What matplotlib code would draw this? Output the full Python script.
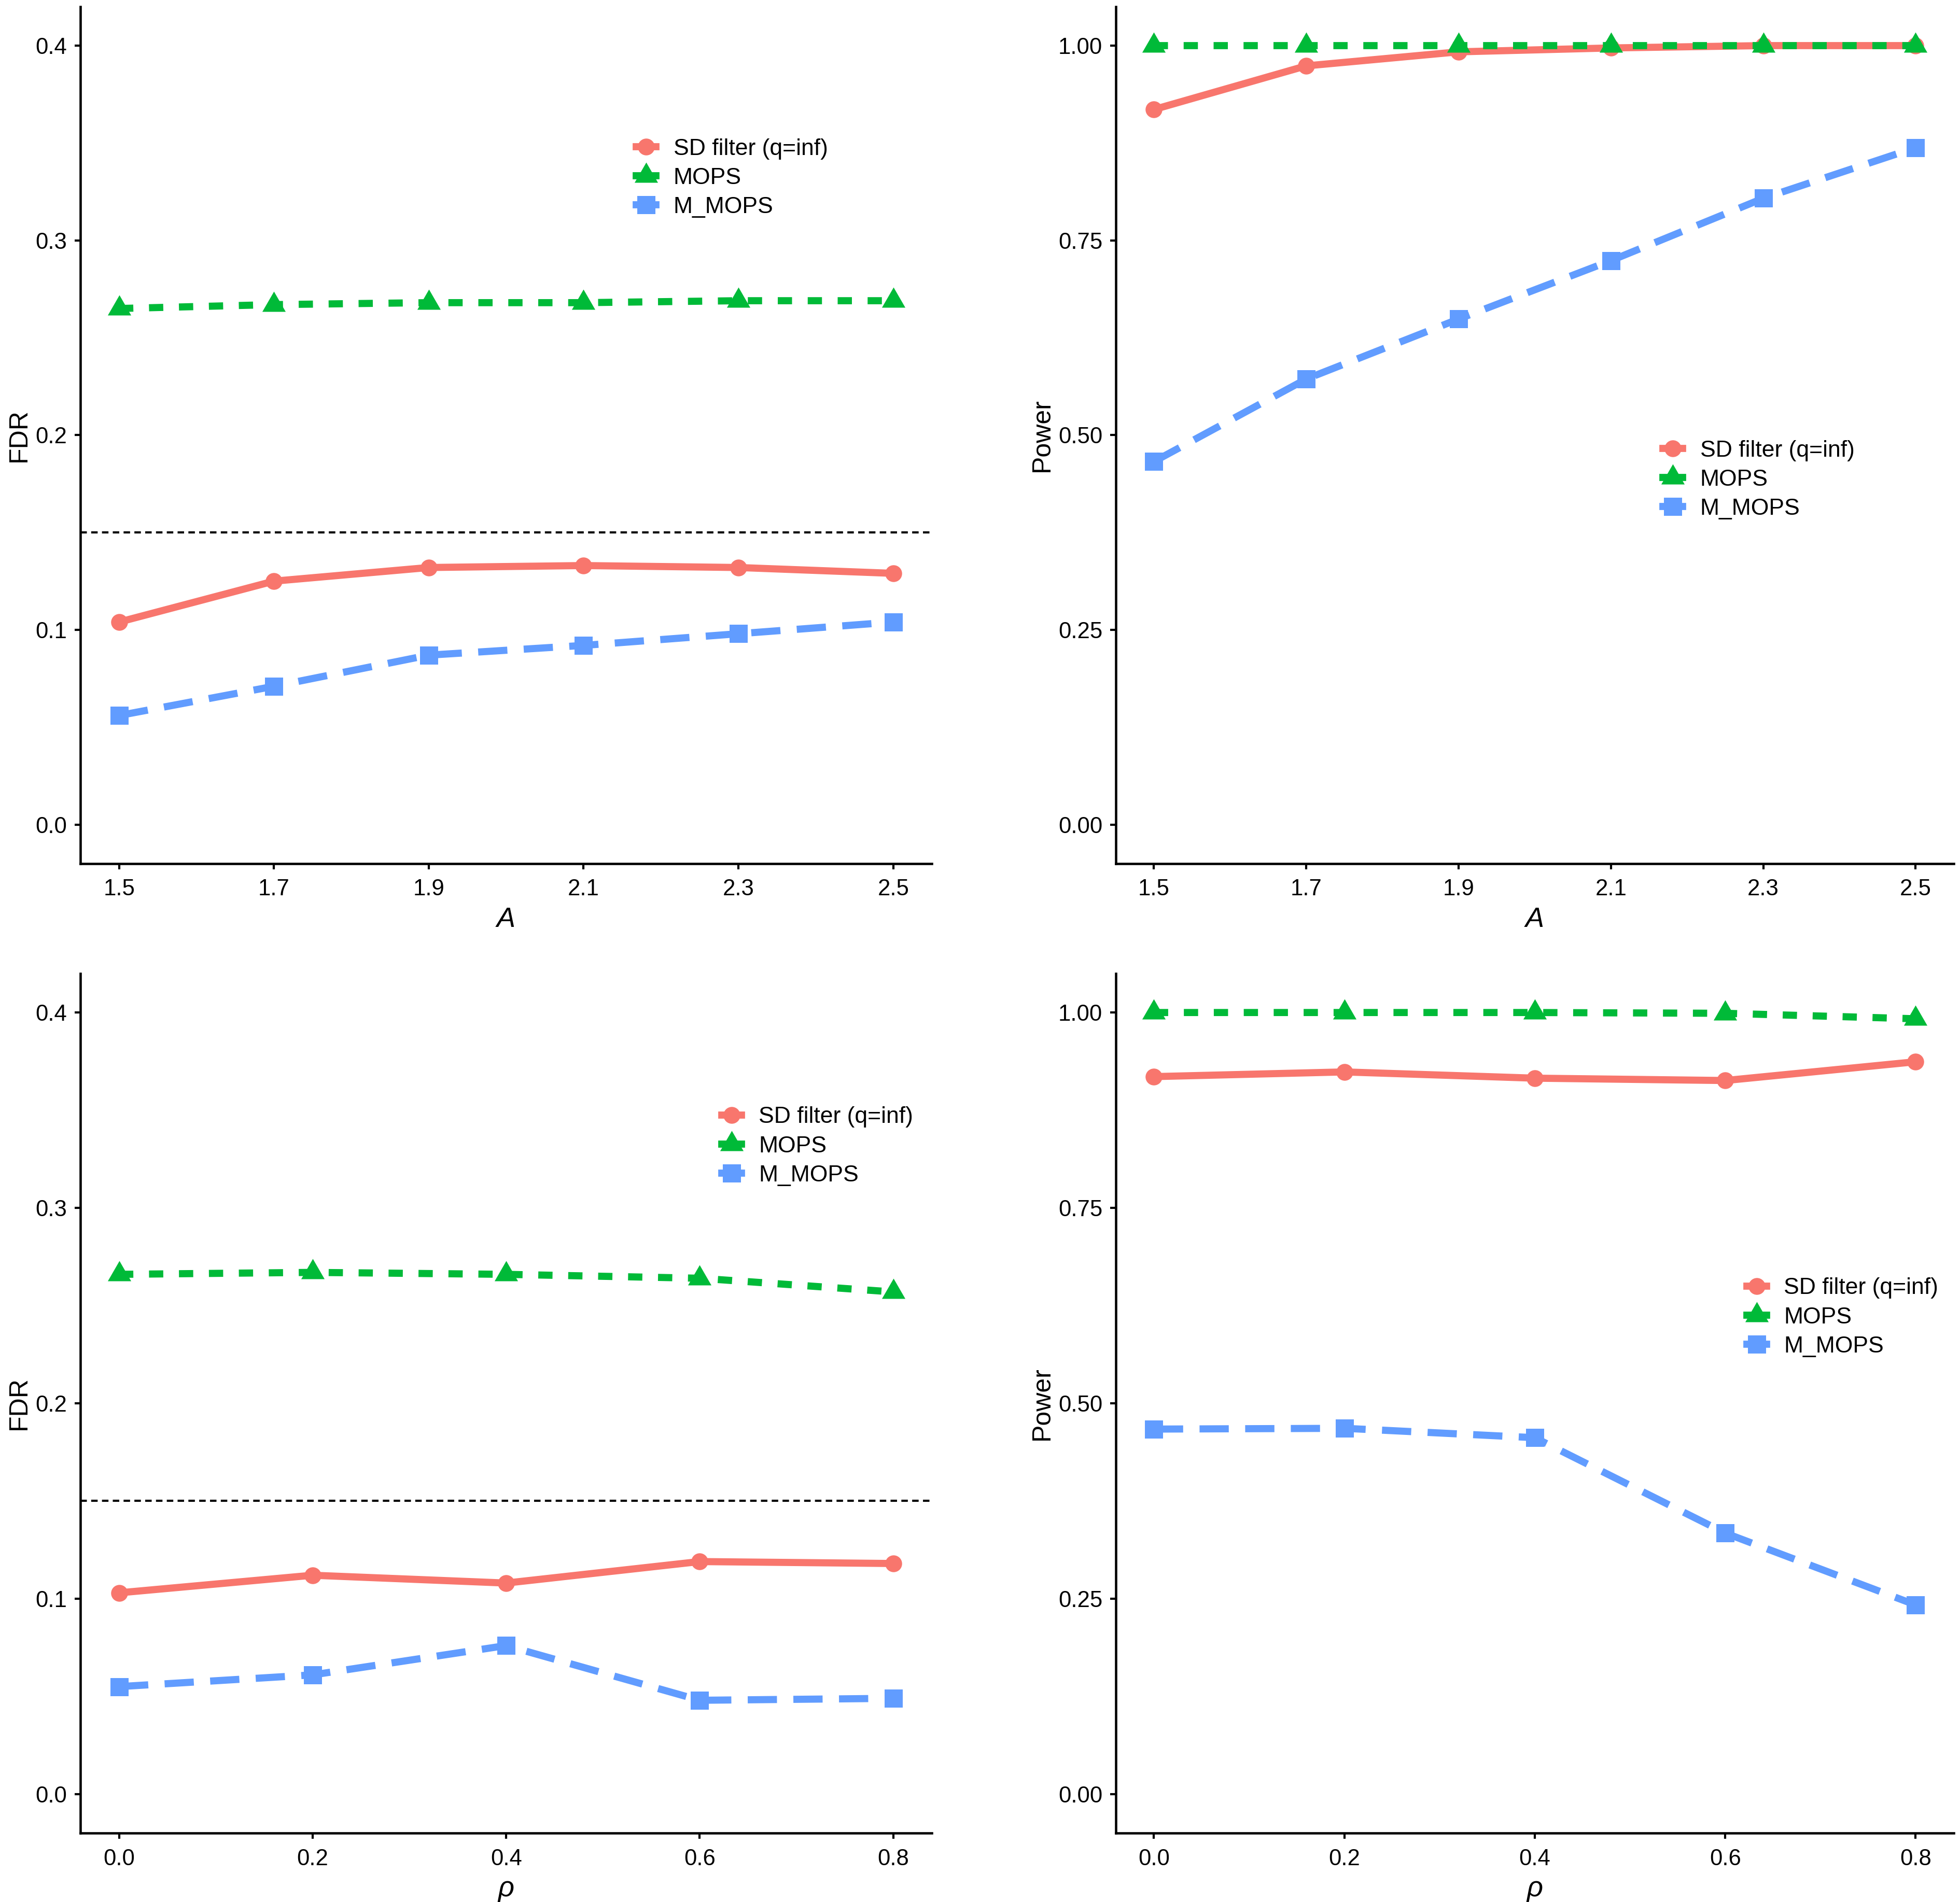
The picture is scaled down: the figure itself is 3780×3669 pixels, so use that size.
import matplotlib
matplotlib.use('Agg')
import matplotlib.pyplot as plt
from matplotlib.lines import Line2D

plt.rcParams['font.family'] = ['Liberation Sans', 'DejaVu Sans']

# data
a_vals = [1.5, 1.7, 1.9, 2.1, 2.3, 2.5]
rho_vals = [0.0, 0.2, 0.4, 0.6, 0.8]

fdr_a_sd = [0.104, 0.125, 0.132, 0.133, 0.132, 0.129]
fdr_a_mops = [0.265, 0.267, 0.268, 0.268, 0.269, 0.269]
fdr_a_mmops = [0.056, 0.071, 0.087, 0.092, 0.098, 0.104]

pow_a_sd = [0.918, 0.974, 0.992, 0.997, 1.0, 1.0]
pow_a_mops = [1.0, 1.0, 1.0, 1.0, 1.0, 1.0]
pow_a_mmops = [0.466, 0.572, 0.649, 0.724, 0.804, 0.869]

fdr_r_sd = [0.103, 0.112, 0.108, 0.119, 0.118]
fdr_r_mops = [0.266, 0.267, 0.266, 0.264, 0.257]
fdr_r_mmops = [0.055, 0.061, 0.076, 0.048, 0.049]

pow_r_sd = [0.918, 0.924, 0.916, 0.913, 0.937]
pow_r_mops = [1.0, 1.0, 1.0, 0.999, 0.992]
pow_r_mmops = [0.467, 0.468, 0.456, 0.334, 0.242]

fdr_target = 0.15
labels = ['SD filter (q=inf)', 'MOPS', 'M_MOPS']
colors = ['#F8766D', '#00BA38', '#619CFF']
markers = ['o', (3, 0, 0), 's']
dashes = [None, (2.0, 2.2), (4.1, 2.3)]
msizes = [7.8, 12.5, 8.4]
LW = 3.3


def draw_panel(ax, x, series, ylab, xlab, yticks, ylabels, xticks, leg_pos, hline=None):
    if hline is not None:
        ax.axhline(hline, color='black', lw=1.0, ls=(0, (3, 2)), zorder=1)
    for y, c, m, d, ms, lab in zip(series, colors, markers, dashes, msizes, labels):
        if d is None:
            ax.plot(x, y, color=c, lw=LW, marker=m, ms=ms, mew=0, label=lab, zorder=3)
        else:
            ax.plot(x, y, color=c, lw=LW, marker=m, ms=ms, mew=0, dashes=d, label=lab, zorder=3)
    ax.set_xticks(xticks)
    ax.set_xticklabels(['%.1f' % v for v in xticks])
    ax.set_yticks(yticks)
    ax.set_yticklabels(ylabels)
    span = yticks[-1] - yticks[0]
    ax.set_ylim(yticks[0] - 0.05 * span, yticks[-1] + 0.05 * span)
    xs = xticks[-1] - xticks[0]
    ax.set_xlim(xticks[0] - 0.05 * xs, xticks[-1] + 0.05 * xs)
    for s in ['top', 'right']:
        ax.spines[s].set_visible(False)
    for s in ['left', 'bottom']:
        ax.spines[s].set_linewidth(1.1)
    ax.tick_params(labelsize=10.5, width=1.0, length=2.6, colors='black')
    ax.tick_params(axis='y', pad=3.6)
    ax.tick_params(axis='x', pad=4.5)
    ax.set_ylabel(ylab, fontsize=12, labelpad=2)
    ax.set_xlabel(xlab, fontsize=13, fontstyle='italic', labelpad=3)
    handles = [Line2D([], [], color=c, marker=m, ms=ms, mew=0, lw=LW)
               for c, m, ms in zip(colors, markers, msizes)]
    ax.legend(handles, labels, loc='center left', bbox_to_anchor=leg_pos, frameon=False,
              fontsize=10.7, handlelength=0.85, handletextpad=0.75, labelspacing=0.34,
              borderpad=0, borderaxespad=0)


fig = plt.figure(figsize=(12.6, 12.23), dpi=300)
ax1 = fig.add_axes([0.041, 0.546, 0.4345, 0.4505])
ax2 = fig.add_axes([0.5693, 0.546, 0.4275, 0.4505])
ax3 = fig.add_axes([0.041, 0.0362, 0.4345, 0.452])
ax4 = fig.add_axes([0.5693, 0.0362, 0.4275, 0.452])

fdr_ticks = [0.0, 0.1, 0.2, 0.3, 0.4]
fdr_labels = ['0.0', '0.1', '0.2', '0.3', '0.4']
pow_ticks = [0.0, 0.25, 0.5, 0.75, 1.0]
pow_labels = ['0.00', '0.25', '0.50', '0.75', '1.00']

draw_panel(ax1, a_vals, [fdr_a_sd, fdr_a_mops, fdr_a_mmops], 'FDR', 'A',
           fdr_ticks, fdr_labels, a_vals, (0.653, 0.80), hline=fdr_target)
draw_panel(ax2, a_vals, [pow_a_sd, pow_a_mops, pow_a_mmops], 'Power', 'A',
           pow_ticks, pow_labels, a_vals, (0.653, 0.448))
draw_panel(ax3, rho_vals, [fdr_r_sd, fdr_r_mops, fdr_r_mmops], 'FDR', 'ρ',
           fdr_ticks, fdr_labels, rho_vals, (0.753, 0.799), hline=fdr_target)
draw_panel(ax4, rho_vals, [pow_r_sd, pow_r_mops, pow_r_mmops], 'Power', 'ρ',
           pow_ticks, pow_labels, rho_vals, (0.753, 0.600))

fig.savefig('out.png', dpi=300)
